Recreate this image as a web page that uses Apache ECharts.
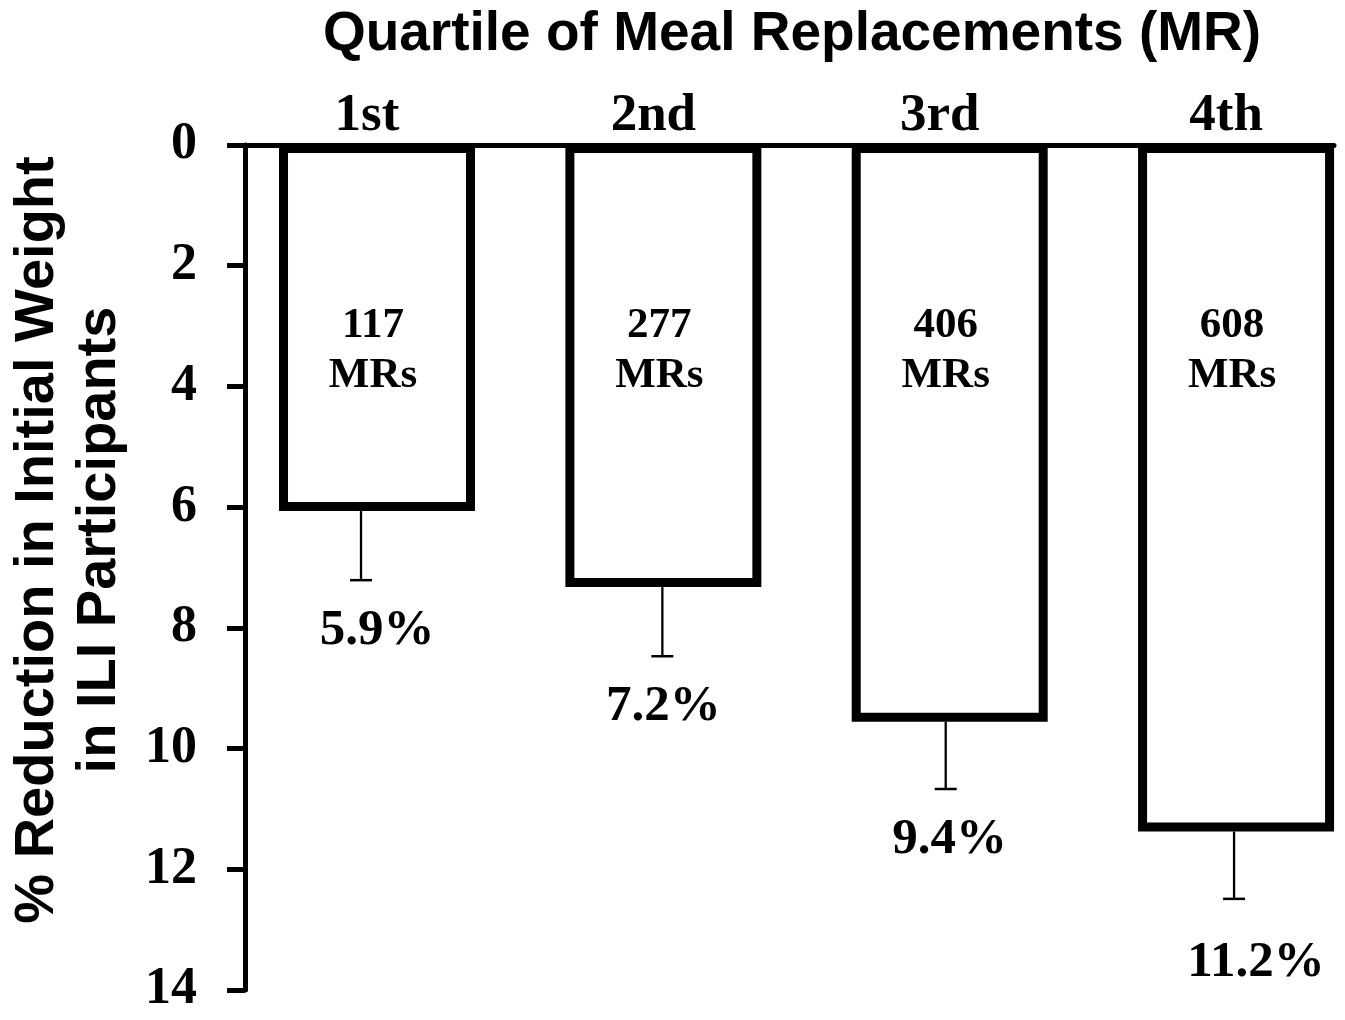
<!DOCTYPE html>
<html><head><meta charset="utf-8">
<script src="https://cdn.jsdelivr.net/npm/echarts@6/dist/echarts.min.js"></script>
<style>html,body{margin:0;padding:0;background:#fff}#chart{width:1345px;height:1020px}</style>
</head><body><div id="chart"></div>
<script>
// ---- data ----
const quartiles = ['1st', '2nd', '3rd', '4th'];
const mrCounts = ['117', '277', '406', '608'];
const reduction = [5.99, 7.25, 9.48, 11.30];   // bar depth (% reduction)
const errorBar = [1.22, 1.22, 1.19, 1.19];     // error bar length
const pctLabels = ['5.9%', '7.2%', '9.4%', '11.2%'];
const yTicks = [0, 2, 4, 6, 8, 10, 12, 14];

// ---- style / layout constants ----
const SERIF = '"Liberation Serif", "Times New Roman", serif';
const SANS = '"Liberation Sans", Arial, sans-serif';
const BAR_W = 0.653;          // bar width as fraction of category spacing
const BORDER = 9;
const ERR_SHIFT = [-16, -1, -4, -2];

const chart = echarts.init(document.getElementById('chart'));
const seriesData = quartiles.map((q, i) => [i, reduction[i], errorBar[i]]);

chart.setOption({
  backgroundColor: '#fff',
  animation: false,
  grid: { left: 245, right: 11, top: 145, bottom: 30, containLabel: false },
  xAxis: {
    type: 'value', position: 'top', min: -0.461, max: 3.342,
    axisLine: { show: true, onZero: false, lineStyle: { color: '#000', width: 5 } },
    axisTick: { show: false }, axisLabel: { show: false }, splitLine: { show: false }
  },
  yAxis: {
    type: 'value', inverse: true, position: 'left',
    min: yTicks[0], max: yTicks[yTicks.length - 1], interval: yTicks[1] - yTicks[0],
    axisLine: { show: true, onZero: false, lineStyle: { color: '#000', width: 5 } },
    axisTick: { show: true, length: 18, lineStyle: { color: '#000', width: 5 } },
    axisLabel: { margin: 48, color: '#000', fontFamily: SERIF, fontWeight: 'bold', fontSize: 52 },
    splitLine: { show: false }
  },
  graphic: [
    { type: 'text', x: 792, y: 35, style: { text: 'Quartile of Meal Replacements (MR)', font: 'bold 55px ' + SANS, fill: '#000', align: 'center', verticalAlign: 'middle' } },
    { type: 'text', x: 69, y: 540, rotation: Math.PI / 2, style: { text: '% Reduction in Initial Weight\nin ILI Participants', font: 'bold 56px ' + SANS, lineHeight: 62, fill: '#000', align: 'center', verticalAlign: 'middle' } }
  ],
  series: [{
    type: 'custom',
    clip: false,
    data: seriesData,
    renderItem: function (params, api) {
      const idx = params.dataIndex;
      const i = api.value(0), v = api.value(1), e = api.value(2);
      const top = api.coord([i, 0]);
      const bot = api.coord([i, v]);
      const cap = api.coord([i, v + e]);
      const w = api.size([BAR_W, 0])[0];
      const cx = top[0];
      const ex = cx + ERR_SHIFT[idx];
      const yTop = top[1] + 3.5;
      const inner = api.coord([i, 3.41]);
      return {
        type: 'group',
        children: [
          { type: 'line', shape: { x1: ex, y1: bot[1] + BORDER / 2, x2: ex, y2: cap[1] }, style: { stroke: '#000', lineWidth: 2.3 } },
          { type: 'line', shape: { x1: ex - 11, y1: cap[1], x2: ex + 11, y2: cap[1] }, style: { stroke: '#000', lineWidth: 2.5 } },
          { type: 'rect', shape: { x: cx - w / 2, y: yTop, width: w, height: bot[1] - yTop }, style: { fill: '#fff', stroke: '#000', lineWidth: BORDER } },
          { type: 'text', x: cx - 4, y: inner[1], style: { text: mrCounts[idx] + '\nMRs', font: 'bold 43px ' + SERIF, lineHeight: 50, fill: '#000', align: 'center', verticalAlign: 'middle' } },
          { type: 'text', x: cx + (idx === 3 ? 20 : 0), y: cap[1] + (idx === 3 ? 64 : 51), style: { text: pctLabels[idx], font: 'bold 51px ' + SERIF, fill: '#000', align: 'center', verticalAlign: 'middle' } },
          { type: 'text', x: cx - 10, y: top[1] - 29, style: { text: quartiles[idx], font: 'bold 53px ' + SERIF, fill: '#000', align: 'center', verticalAlign: 'middle' } }
        ]
      };
    }
  }]
});
</script>
</body></html>
